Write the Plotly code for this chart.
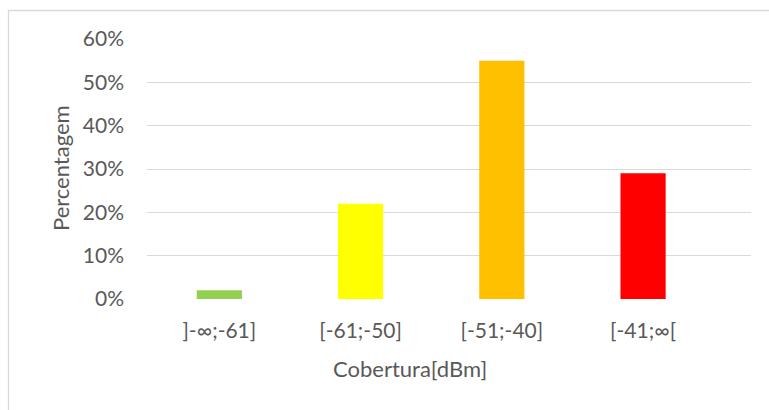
import plotly.graph_objects as go

# Coverage classes and share of measurements in each
categories = ["]-∞;-61]", "[-61;-50]", "[-51;-40]", "[-41;∞["]
shares = [0.02, 0.22, 0.55, 0.29]
bar_colors = ["#92D050", "#FFFF00", "#FFC000", "#FF0000"]
y_ticks = [0, 0.1, 0.2, 0.3, 0.4, 0.5, 0.6]
y_tick_labels = ["0%", "10%", "20%", "30%", "40%", "50%", "60%"]

W, H = 769, 410
L, R, T, B = 147, 18, 39, 111
pw, ph = W - L - R, H - T - B

text_color = "#595959"
grid_color = "#D9D9D9"
font_family = "Lato, 'Open Sans', sans-serif"

fig = go.Figure(
    go.Bar(
        x=list(range(len(categories))),
        y=shares,
        marker=dict(color=bar_colors, line=dict(width=0)),
        width=0.32,
        hoverinfo="skip",
    )
)

def px_x(p):
    return (p - L) / pw

def px_y(p):
    return (H - B - p) / ph

fig.update_layout(
    width=W,
    height=H,
    margin=dict(l=L, r=R, t=T, b=B),
    paper_bgcolor="white",
    plot_bgcolor="white",
    showlegend=False,
    font=dict(family=font_family, size=21, color=text_color),
    xaxis=dict(
        range=[-0.512, 3.764],
        tickmode="array",
        tickvals=list(range(len(categories))),
        ticktext=categories,
        showgrid=False,
        zeroline=False,
        showline=False,
        ticks="",
        ticklabelstandoff=17,
        tickfont=dict(size=21, color=text_color),
    ),
    yaxis=dict(
        range=[0, 0.6],
        tickmode="array",
        tickvals=y_ticks,
        ticktext=y_tick_labels,
        showgrid=True,
        gridcolor=grid_color,
        gridwidth=1.3,
        zeroline=False,
        showline=False,
        ticks="",
        ticklabelstandoff=22,
        tickfont=dict(size=21, color=text_color),
    ),
    annotations=[
        dict(
            text="Percentagem",
            xref="paper", yref="paper",
            x=px_x(60), y=px_y(168),
            xanchor="center", yanchor="middle",
            textangle=-90, showarrow=False,
            font=dict(size=22, color=text_color),
        ),
        dict(
            text="Cobertura[dBm]",
            xref="paper", yref="paper",
            x=px_x(409.5), y=px_y(368),
            xanchor="center", yanchor="middle",
            showarrow=False,
            font=dict(size=22, color=text_color),
        ),
    ],
    shapes=[
        dict(
            type="rect",
            xref="paper", yref="paper",
            x0=px_x(8.5), x1=px_x(790),
            y0=px_y(430), y1=px_y(10.5),
            line=dict(color=grid_color, width=1.3),
            fillcolor="rgba(0,0,0,0)",
            layer="below",
        )
    ],
)

fig.write_html("out.html")
